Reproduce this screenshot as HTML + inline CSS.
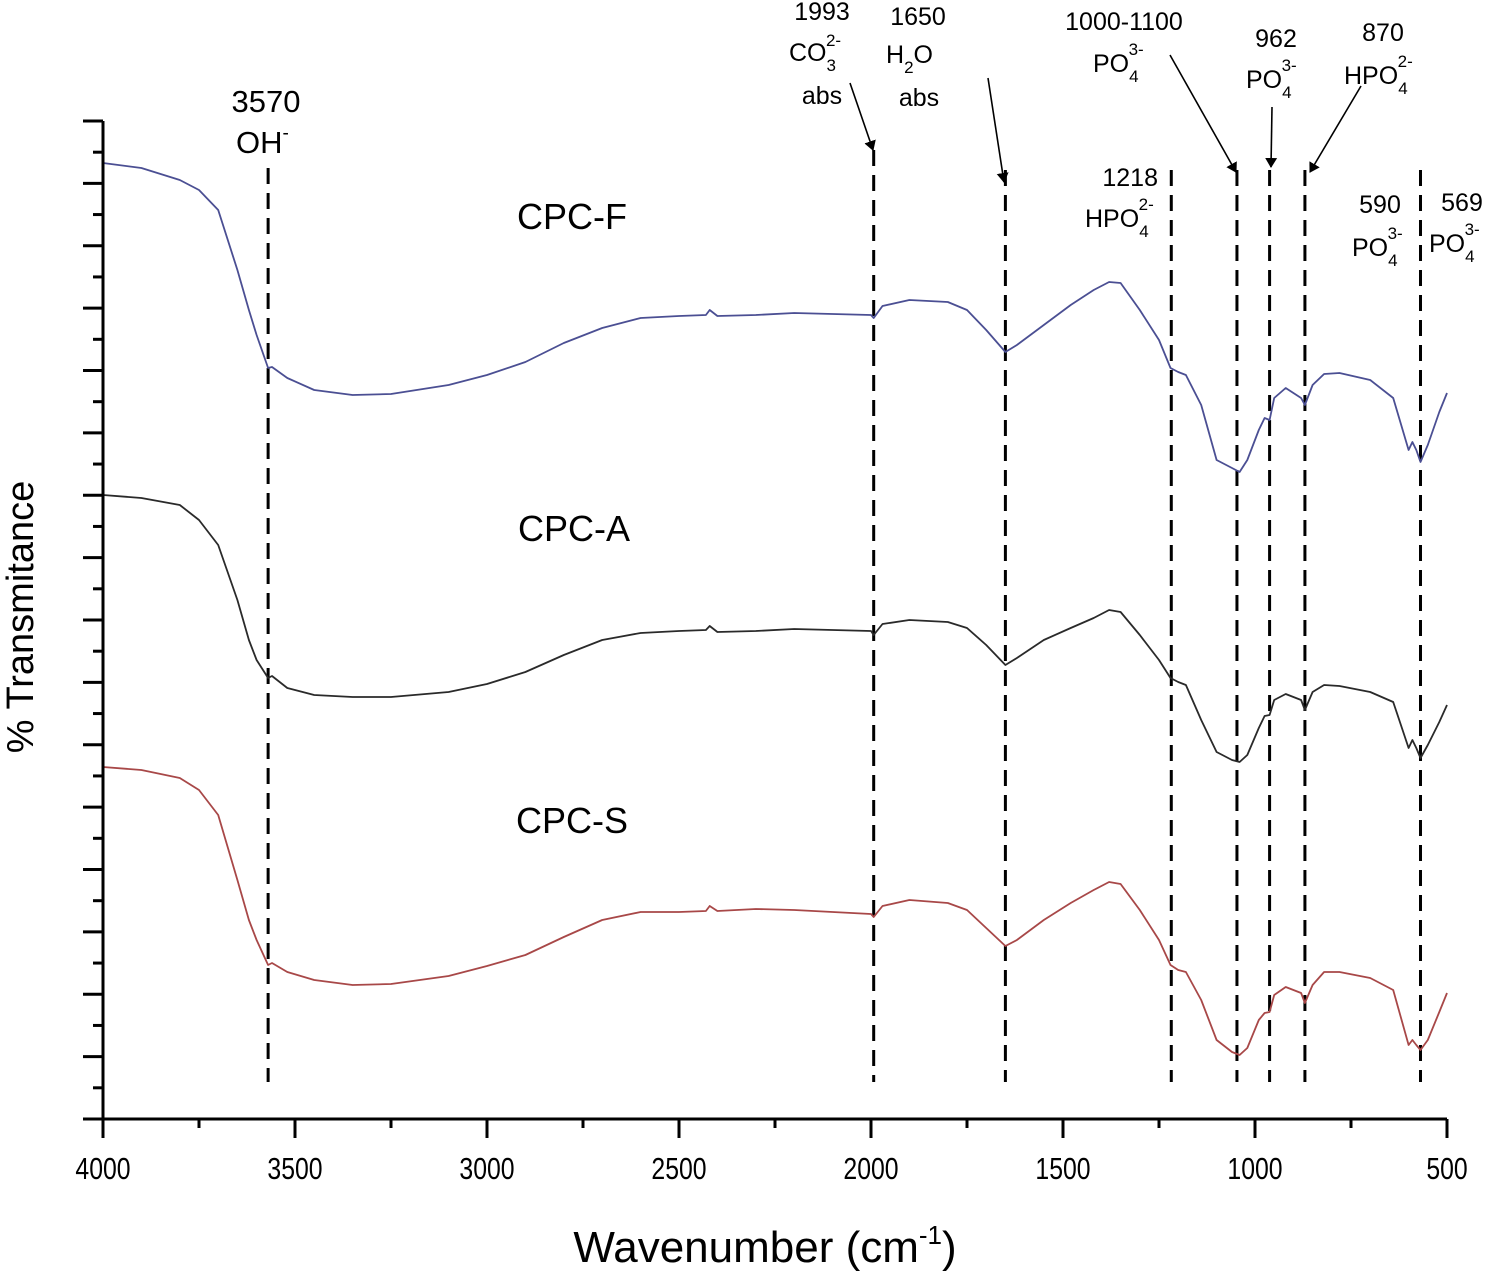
<!DOCTYPE html>
<html><head><meta charset="utf-8"><style>
html,body{margin:0;padding:0;background:#fff;}
svg{display:block;font-family:"Liberation Sans",Arial,sans-serif;}
</style></head><body>
<svg id="chart" width="1488" height="1272" viewBox="0 0 1488 1272" xmlns="http://www.w3.org/2000/svg">
<g id="grid-ann"></g>
<g id="series"></g>
<g id="axes"></g>
<g id="labels" fill="#000">
  <text transform="translate(33,617) rotate(-90)" text-anchor="middle" font-size="38">% Transmitance</text>
  <text x="765" y="1262" text-anchor="middle" font-size="44">Wavenumber (cm<tspan font-size="26" dy="-18">-1</tspan><tspan dy="18">)</tspan></text>
  <text x="517" y="229" font-size="36">CPC-F</text>
  <text x="518" y="541" font-size="36">CPC-A</text>
  <text x="516" y="833" font-size="36">CPC-S</text>

  <text x="266" y="112" text-anchor="middle" font-size="31">3570</text>
  <text x="236" y="153" font-size="31">OH<tspan font-size="19" dy="-14">-</tspan></text>

  <g font-size="25">
    <text x="822" y="20" text-anchor="middle">1993</text>
    <text x="789" y="61">CO<tspan font-size="17" dy="10">3</tspan><tspan font-size="17" dx="-10" dy="-25">2-</tspan></text>
    <text x="822" y="104" text-anchor="middle">abs</text>
  </g>
  <g font-size="25">
    <text x="918" y="25" text-anchor="middle">1650</text>
    <text x="886" y="63">H<tspan font-size="17" dy="10">2</tspan><tspan dy="-10">O</tspan></text>
    <text x="919" y="106" text-anchor="middle">abs</text>
  </g>
  <g font-size="25">
    <text x="1124" y="30" text-anchor="middle">1000-1100</text>
    <text x="1093" y="72">PO<tspan font-size="17" dy="10">4</tspan><tspan font-size="17" dx="-10" dy="-27">3-</tspan></text>
  </g>
  <g font-size="25">
    <text x="1276" y="47" text-anchor="middle">962</text>
    <text x="1246" y="88">PO<tspan font-size="17" dy="10">4</tspan><tspan font-size="17" dx="-10" dy="-27">3-</tspan></text>
  </g>
  <g font-size="25">
    <text x="1383" y="41" text-anchor="middle">870</text>
    <text x="1344" y="84">HPO<tspan font-size="17" dy="10">4</tspan><tspan font-size="17" dx="-10" dy="-27">2-</tspan></text>
  </g>
  <g font-size="25">
    <text x="1158" y="186" text-anchor="end">1218</text>
    <text x="1085" y="227">HPO<tspan font-size="17" dy="10">4</tspan><tspan font-size="17" dx="-10" dy="-27">2-</tspan></text>
  </g>
  <g font-size="25">
    <text x="1380" y="213" text-anchor="middle">590</text>
    <text x="1352" y="256">PO<tspan font-size="17" dy="10">4</tspan><tspan font-size="17" dx="-10" dy="-27">3-</tspan></text>
  </g>
  <g font-size="25">
    <text x="1462" y="211" text-anchor="middle">569</text>
    <text x="1429" y="252">PO<tspan font-size="17" dy="10">4</tspan><tspan font-size="17" dx="-10" dy="-27">3-</tspan></text>
  </g>
</g>
</svg>
<script>
const wavenumbers=[4000,3900,3800,3750,3700,3650,3620,3600,3570,3560,3520,3450,3350,3250,3100,3000,2900,2800,2700,2600,2500,2430,2420,2400,2300,2200,2100,2000,1993,1970,1900,1800,1750,1700,1650,1620,1550,1480,1420,1380,1350,1300,1250,1220,1200,1180,1140,1100,1060,1040,1020,990,975,962,950,920,880,870,850,820,780,700,640,600,590,580,569,550,520,500];
const cpcF=[95.6,95.1,93.9,92.9,90.9,84.9,80.9,78.4,75.1,75.2,74.1,72.9,72.4,72.5,73.4,74.4,75.7,77.6,79.1,80.1,80.3,80.4,80.9,80.3,80.4,80.6,80.5,80.4,80.1,81.3,81.9,81.7,80.9,78.9,76.7,77.4,79.4,81.4,82.9,83.7,83.6,80.9,77.9,75.1,74.7,74.4,71.4,65.9,65.1,64.7,65.9,68.9,70.1,69.9,72.1,73.1,72.1,71.4,73.4,74.5,74.6,73.9,72.1,66.9,67.7,66.9,65.7,67.4,70.7,72.6];
const cpcA=[62.4,62.1,61.4,59.9,57.4,51.9,47.9,45.9,44.1,44.3,43.1,42.4,42.2,42.2,42.7,43.5,44.7,46.4,47.9,48.6,48.8,48.9,49.3,48.7,48.8,49.0,48.9,48.8,48.4,49.5,49.9,49.7,49.1,47.4,45.4,46.1,47.9,49.1,50.1,50.9,50.7,48.4,45.9,44.1,43.7,43.4,39.9,36.7,35.9,35.7,36.4,39.1,40.3,40.4,41.9,42.5,41.9,40.9,42.7,43.4,43.3,42.7,41.7,37.1,37.9,37.1,36.1,37.4,39.7,41.4];
const cpcS=[35.2,34.9,34.1,32.9,30.4,23.9,19.9,17.9,15.4,15.6,14.7,13.9,13.4,13.5,14.3,15.3,16.4,18.2,19.9,20.7,20.7,20.8,21.3,20.8,21.0,20.9,20.7,20.5,20.2,21.3,21.9,21.6,20.9,19.1,17.3,17.9,19.9,21.6,22.9,23.7,23.5,20.9,17.9,15.4,14.9,14.7,11.9,7.9,6.7,6.4,7.1,9.9,10.6,10.7,12.4,13.2,12.6,11.6,13.4,14.7,14.7,14.1,12.9,7.4,7.9,7.4,6.9,7.9,10.7,12.6];
const xTickLabels=["4000","3500","3000","2500","2000","1500","1000","500"];
const xTickValues=[4000,3500,3000,2500,2000,1500,1000,500];
const peakLines=[3570,1993,1650,1218,1047,962,870,569];

const NS="http://www.w3.org/2000/svg";
const X0=103,X1=1447,Y0=1119,Y1=121;
function xs(w){return X0+(4000-w)/3500*(X1-X0);}
function ys(t){return Y0-t/99.8*(Y0-Y1);}
function mk(tag,attrs,parent){const e=document.createElementNS(NS,tag);for(const k in attrs)e.setAttribute(k,attrs[k]);parent.appendChild(e);return e;}

const ann=document.getElementById('grid-ann');
peakLines.forEach(function(w){
  const top=(w===1993)?150:(w===3570?168:170);
  const l=mk('line',{x1:xs(w),x2:xs(w),y1:top,y2:1082,stroke:'#000','stroke-width':3,'stroke-dasharray':'16 9'},ann);
  
  
});
const arrows=[[850,83,873,150],[988,78,1004,182],[1170,55,1236,172],[1272,107,1271,167],[1361,86,1310,172]];
const defs=mk('defs',{},ann);
const mkr=mk('marker',{id:'ah',markerWidth:10,markerHeight:14,refX:9,refY:7,orient:'auto',markerUnits:'userSpaceOnUse'},defs);
mk('path',{d:'M0,1 L10,7 L0,13 Z',fill:'#000'},mkr);
arrows.forEach(function(a,i){
  const l=mk('line',{x1:a[0],y1:a[1],x2:a[2],y2:a[3],stroke:'#000','stroke-width':1.6,'marker-end':'url(#ah)'},ann);
  
  
});

const sg=document.getElementById('series');
function drawSeries(vals,color,name){
  let d='';
  const n=Math.min(vals.length,wavenumbers.length);
  for(let i=0;i<n;i++){d+=(i?'L':'M')+xs(wavenumbers[i]).toFixed(1)+','+ys(vals[i]).toFixed(1);}
  const p=mk('path',{d:d,fill:'none',stroke:color,'stroke-width':1.8,'stroke-linejoin':'round'},sg);
  
  
}
drawSeries(cpcF,'#4b4f93','series-cpc-f');
drawSeries(cpcA,'#2a2a2a','series-cpc-a');
drawSeries(cpcS,'#a84848','series-cpc-s');

const ax=document.getElementById('axes');
const ya=mk('line',{x1:X0,x2:X0,y1:Y1,y2:Y0+1.5,stroke:'#000','stroke-width':3},ax);


const xa=mk('line',{x1:X0-20,x2:X1,y1:Y0,y2:Y0,stroke:'#000','stroke-width':3},ax);


for(let i=0;i<=32;i++){
  const y=Y1+i*(Y0-Y1)/32;
  const t=mk('line',{x1:(i%2===0)?X0-20:X0-10,x2:X0,y1:y,y2:y,stroke:'#000','stroke-width':3},ax);
  
  
}
for(let w=4000;w>=500;w-=250){
  const major=(w%500===0);
  const t=mk('line',{x1:xs(w),x2:xs(w),y1:Y0,y2:Y0+(major?19:9),stroke:'#000','stroke-width':3},ax);
  
  
}
xTickValues.forEach(function(w,i){
  const t=mk('text',{x:0,y:0,transform:'translate('+xs(w)+',1179) scale(0.8,1)','text-anchor':'middle','font-size':31,fill:'#000'},ax);
  t.textContent=xTickLabels[i];
  
  
});
</script>
</body></html>
